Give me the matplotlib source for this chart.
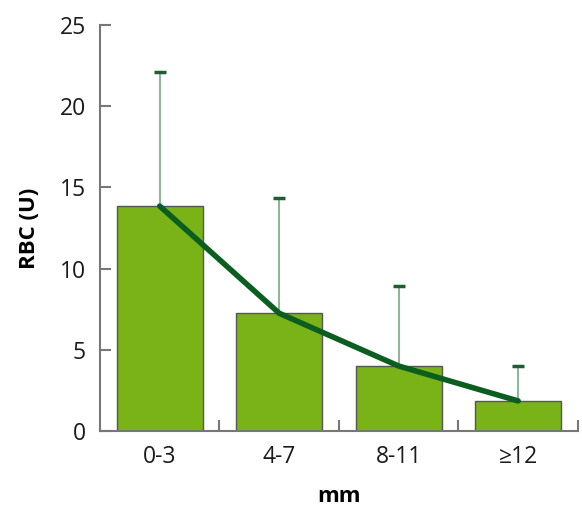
import matplotlib
matplotlib.use("Agg")
import matplotlib.pyplot as plt

categories = ["0-3", "4-7", "8-11", "≥12"]
rbc_mean = [13.85, 7.25, 4.0, 1.85]
rbc_sd = [8.25, 7.1, 4.9, 2.15]

plt.rcParams['font.family'] = ['Open Sans', 'DejaVu Sans']

fig = plt.figure(figsize=(5.82, 5.11), dpi=100)
ax = fig.add_axes([0.1718, 0.1566, 0.8212, 0.7944])

x = list(range(len(categories)))
ax.bar(x, rbc_mean, width=0.72, color="#7ab317", edgecolor="#555555",
       linewidth=1.0, zorder=2)
_, caps, bars = ax.errorbar(x, rbc_mean, yerr=[[0] * 4, rbc_sd], fmt="none",
                            ecolor="#8fb59a", elinewidth=1.5, capsize=4,
                            capthick=2.5, zorder=3)
# only the upper caps are shown
caps[0].set_visible(False)
caps[1].set_markeredgecolor("#1e5e32")
ax.plot(x, rbc_mean, color="#0b5e1f", linewidth=4, solid_capstyle="round",
        zorder=4)

ax.set_xlim(-0.5, 3.5)
ax.set_ylim(0, 25)
ax.set_yticks([0, 5, 10, 15, 20, 25])
ax.set_xticks([0.5, 1.5, 2.5, 3.5])
ax.set_xticklabels([])
ax.set_xticks(x, minor=True)
ax.set_xticklabels(categories, minor=True)
ax.tick_params(axis="x", which="major", direction="in", length=8,
               color="#777777", width=1.5)
ax.tick_params(axis="x", which="minor", length=0, labelsize=16.5, pad=10,
               labelcolor="#1a1a1a")
ax.tick_params(axis="y", direction="in", length=8, color="#777777", width=1.5,
               labelsize=16.5, pad=10, labelcolor="#1a1a1a")
for s in ["top", "right"]:
    ax.spines[s].set_visible(False)
for s in ["left", "bottom"]:
    ax.spines[s].set_color("#777777")
    ax.spines[s].set_linewidth(1.5)

ax.set_ylabel("RBC (U)", fontsize=16, fontweight="bold", labelpad=14)
ax.set_xlabel("mm", fontsize=16, fontweight="bold", labelpad=12)

fig.savefig("out.png", dpi=100)
